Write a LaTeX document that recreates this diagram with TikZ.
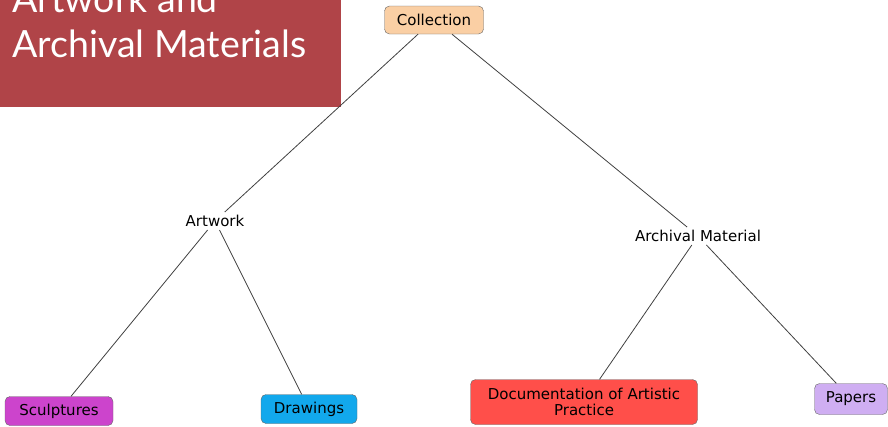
\documentclass[tikz,border=0pt]{standalone}
\usepackage{fontspec}
\setmainfont{DejaVu Sans}
\newfontfamily\titlefont{Lato}
\definecolor{titlered}{HTML}{B04448}
\definecolor{peach}{HTML}{FACFA4}
\definecolor{magentabox}{HTML}{CC44CC}
\definecolor{bluebox}{HTML}{12A8EC}
\definecolor{redbox}{HTML}{FF4F4A}
\definecolor{lilacbox}{HTML}{CFAEF2}
\tikzset{
   leaf/.style = {draw = black!60, rounded corners = 5pt, inner sep = 0pt, font = \fontsize{15}{16.5}\selectfont, align = center},
   branch/.style = {inner sep = 3pt, font = \fontsize{15}{16.5}\selectfont},
   link/.style = {draw = black!75, line width = 0.8pt}
}
\begin{document}
\begin{tikzpicture}[x = 1pt, y = -1pt]
\useasboundingbox (0,0) rectangle (888,426);
\fill[titlered] (0,0) rectangle (341,107);
\node[anchor = base west, text = white, font = \titlefont\fontsize{37.5}{45}\selectfont, align = left, inner sep = 0pt] (title) at (12,57) {Artwork and\\Archival Materials};

\node[leaf, fill = peach, minimum width = 99pt, minimum height = 28pt] (collection) at (434,20) {Collection};
\node[branch] (artwork) at (215,221) {Artwork};
\node[branch] (archival) at (698,236) {Archival Material};
\node[leaf, fill = magentabox, minimum width = 108pt, minimum height = 29pt] (sculptures) at (59,411) {Sculptures};
\node[leaf, fill = bluebox, minimum width = 96pt, minimum height = 29pt] (drawings) at (309,409) {Drawings};
\node[leaf, fill = redbox, minimum width = 227pt, minimum height = 45pt] (documentation) at (584,402) {Documentation of Artistic\\Practice};
\node[leaf, fill = lilacbox, minimum width = 73pt, minimum height = 31pt] (papers) at (851,399) {Papers};

\draw[link] (collection.south) ++(-16,0) -- (artwork);
\draw[link] (collection.south) ++(18,0) -- (archival);
\draw[link] (artwork) -- (sculptures);
\draw[link] (artwork) -- (drawings);
\draw[link] (archival) -- (documentation);
\draw[link] (archival) -- (papers);
\end{tikzpicture}
\end{document}
